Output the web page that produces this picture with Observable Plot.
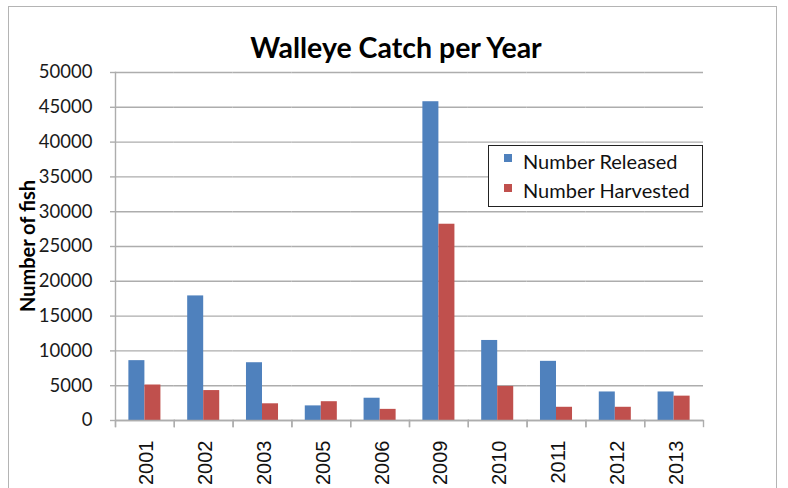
<!DOCTYPE html>
<html>
<head>
<meta charset="utf-8">
<script src="https://cdn.jsdelivr.net/npm/d3@7"></script>
<script src="https://cdn.jsdelivr.net/npm/@observablehq/plot@0.6"></script>
<style>
  html, body { margin: 0; padding: 0; background: #fff; }
  #wrap { position: relative; width: 788px; height: 488px; overflow: hidden; background: #fff; }
  #border { position: absolute; left: 8px; top: 6px; width: 769px; height: 520px; border: 1.5px solid #b4b4b4; box-sizing: border-box; }
  #chart { position: absolute; left: 0; top: 0; }
  #title { position: absolute; left: 396px; top: 33px; transform: translateX(-50%); font: bold 28.5px Lato, sans-serif; line-height: 28px; white-space: nowrap; color: #000; }
  #ylabel { position: absolute; left: 17px; top: 246px; width: 20px; transform: translateY(-50%) rotate(180deg); writing-mode: vertical-rl; text-orientation: mixed; font: bold 20px Lato, sans-serif; line-height: 20px; white-space: nowrap; color: #000; }
  #legend { position: absolute; left: 488px; top: 145px; width: 215px; height: 62px; box-sizing: border-box; border: 1px solid #222; background: #fff; }
  .sw { position: absolute; left: 15px; width: 8px; height: 8px; }
  .lt { position: absolute; left: 34px; font: 20px Lato, sans-serif; line-height: 20px; white-space: nowrap; color: #111; }
</style>
</head>
<body>
<div id="wrap">
  <div id="border"></div>
  <div id="chart"></div>
  <div id="title"></div>
  <div id="ylabel"></div>
  <div id="legend"></div>
</div>
<script>
const years = ["2001", "2002", "2003", "2005", "2006", "2009", "2010", "2011", "2012", "2013"];
const released = [8600, 17900, 8300, 2100, 3200, 45800, 11500, 8500, 4100, 4100];
const harvested = [5100, 4300, 2400, 2700, 1600, 28200, 4900, 1900, 1900, 3500];
const seriesNames = ["Number Released", "Number Harvested"];
const seriesColors = ["#4f81bd", "#c0504d"];
const yTicks = [0, 5000, 10000, 15000, 20000, 25000, 30000, 35000, 40000, 45000, 50000];
const titleText = "Walleye Catch per Year";
const yLabelText = "Number of fish";

const rows = years.flatMap((year, i) => [
  {year, series: seriesNames[0], value: released[i]},
  {year, series: seriesNames[1], value: harvested[i]}
]);

const gridColor = "#adadad";
const W = 788, H = 488, mt = 72, mb = 68, ml = 115, mr = 85;

const chart = Plot.plot({
  width: W, height: H,
  marginTop: mt, marginBottom: mb, marginLeft: ml, marginRight: mr,
  style: {background: "transparent", overflow: "visible"},
  fx: {domain: years, padding: 0, round: false, label: null, axis: null},
  x: {domain: seriesNames, paddingInner: 0, paddingOuter: 0.835, round: false, axis: null},
  y: {domain: [0, 50000], axis: null},
  color: {domain: seriesNames, range: seriesColors},
  marks: [
    Plot.gridY(yTicks, {stroke: gridColor, strokeOpacity: 1, strokeWidth: 1.4}),
    Plot.barY(rows, {fx: "year", x: "series", y: "value", fill: "series"}),
    Plot.ruleY([0], {stroke: gridColor, strokeWidth: 1.4}),
    Plot.frame({anchor: "left", stroke: gridColor, strokeWidth: 1.4, insetTop: H - mt - mb, insetBottom: -6}),
    Plot.frame({anchor: "right", stroke: gridColor, strokeWidth: 1.4, insetTop: H - mt - mb, insetBottom: -6}),
    Plot.frame({anchor: "left", facetAnchor: "left", stroke: gridColor, strokeWidth: 1.4, insetBottom: -6}),
    Plot.axisY(yTicks, {tickSize: 5, tickPadding: 18, tickFormat: d3.format("d"), stroke: gridColor, strokeWidth: 1.4, fill: "#1a1a1a", fontSize: 18.5, fontFamily: "Lato, sans-serif", label: null}),
    Plot.axisFx({anchor: "bottom", tickSize: 0, tickRotate: -90, tickPadding: 20, dx: 2, fontSize: 20, fontFamily: "Liberation Sans, Arial, sans-serif", fill: "#111", label: null})
  ]
});
document.getElementById("chart").appendChild(chart);

document.getElementById("title").textContent = titleText;
document.getElementById("ylabel").textContent = yLabelText;

const legend = document.getElementById("legend");
seriesNames.forEach((name, i) => {
  const sw = document.createElement("div");
  sw.className = "sw";
  sw.style.top = (8 + i * 30) + "px";
  sw.style.background = seriesColors[i];
  legend.appendChild(sw);
  const t = document.createElement("div");
  t.className = "lt";
  t.style.top = (5 + i * 29) + "px";
  t.textContent = name;
  legend.appendChild(t);
});
</script>
</body>
</html>
